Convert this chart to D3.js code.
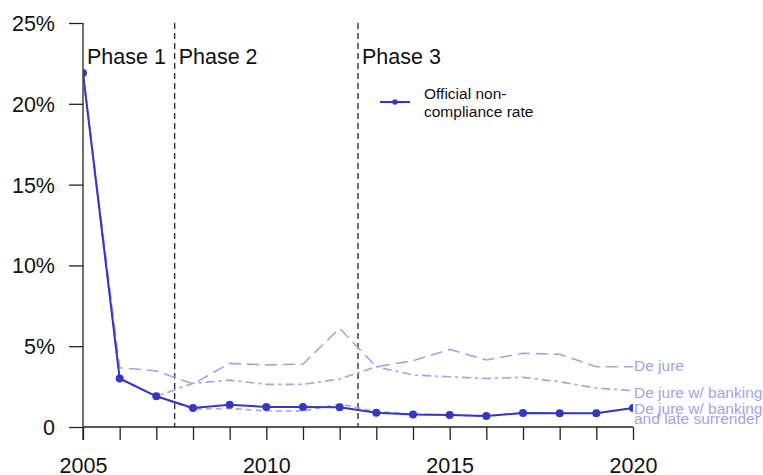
<!DOCTYPE html>
<html><head><meta charset="utf-8">
<script src="https://cdn.jsdelivr.net/npm/d3@7"></script>
<style>body{margin:0;background:#fff}svg{display:block;font-family:"Liberation Sans",Arial,sans-serif}</style>
</head><body><svg id="c" width="763" height="475"></svg>
<script>
const years = [2005,2006,2007,2008,2009,2010,2011,2012,2013,2014,2015,2016,2017,2018,2019,2020];
const official = [21.9,3.0,1.9,1.18,1.38,1.24,1.24,1.22,0.88,0.78,0.74,0.68,0.87,0.85,0.85,1.18];
const deJure = [21.9,3.67,3.47,2.66,3.94,3.84,3.9,6.1,3.73,4.1,4.8,4.15,4.56,4.5,3.73,3.73];
const deJureBanking = [21.9,3.0,1.9,2.7,2.9,2.64,2.64,2.97,3.73,3.22,3.11,3.0,3.07,2.8,2.4,2.25];
const deJureBankingLate = [21.9,3.0,1.9,1.1,1.15,0.99,0.99,1.42,0.95,0.8,0.74,0.68,0.87,0.85,0.85,1.18];
const yTicks = [0,5,10,15,20,25];
const yTickLabels = ["0","5%","10%","15%","20%","25%"];
const xLabelYears = [2005,2010,2015,2020];
const phaseBreaks = [2007.5,2012.5];
const phaseLabels = [{t:"Phase 1",x:2005},{t:"Phase 2",x:2007.5},{t:"Phase 3",x:2012.5}];
const seriesLabels = [["De jure"],["De jure w/ banking"],["De jure w/ banking","and late surrender"]];

const svg = d3.select("#c");
const x = d3.scaleLinear().domain([2005,2020]).range([83,633]);
const y = d3.scaleLinear().domain([0,25]).range([427,23]);
const dark = "#3636bf", light = "#a3a3e2";

svg.append("defs").append("clipPath").attr("id","clip").append("rect")
  .attr("x",83).attr("y",0).attr("width",550).attr("height",440);

// y axis
const ya = svg.append("g").attr("transform","translate(83,0)")
  .call(d3.axisLeft(y).tickValues(yTicks).tickSize(14).tickFormat((d,i)=>yTickLabels[i]).tickPadding(14));
ya.select(".domain").remove();
ya.selectAll("line").attr("stroke","#222").attr("stroke-width",1.3);
ya.selectAll("text").attr("font-size","21.5px").attr("fill","#111").attr("font-family","Liberation Sans, Arial, sans-serif").attr("dy","0.35em");
svg.append("line").attr("x1",83).attr("x2",83).attr("y1",23).attr("y2",440).attr("stroke","#222").attr("stroke-width",1.3);

// x axis
const xa = svg.append("g").attr("transform","translate(0,427)")
  .call(d3.axisBottom(x).tickValues(years).tickSize(13).tickFormat(d=>xLabelYears.includes(d)?String(d):""));
xa.select(".domain").remove();
xa.selectAll("line").attr("stroke","#222").attr("stroke-width",1.3);
xa.selectAll("text").attr("font-size","21.5px").attr("fill","#111").attr("font-family","Liberation Sans, Arial, sans-serif").attr("y",45.5).attr("dy",0);
svg.append("line").attr("x1",83).attr("x2",633).attr("y1",427).attr("y2",427).attr("stroke","#222").attr("stroke-width",1.3);

// phase lines
svg.selectAll(".pb").data(phaseBreaks).enter().append("line")
  .attr("x1",d=>x(d)).attr("x2",d=>x(d)).attr("y1",23).attr("y2",427)
  .attr("stroke","#333").attr("stroke-width",1.4).attr("stroke-dasharray","6,4");
svg.selectAll(".pl").data(phaseLabels).enter().append("text")
  .attr("x",d=>x(d.x)+4).attr("y",64).attr("font-size","21.5px").attr("fill","#111").text(d=>d.t);

const line = d3.line().x((d,i)=>x(years[i])).y(d=>y(d));
const g = svg.append("g").attr("clip-path","url(#clip)");
const lightSeries = [
  {v:deJure, dash:"12,6"},
  {v:deJureBanking, dash:"9,4,3,4"},
  {v:deJureBankingLate, dash:"6,4"}
];
lightSeries.forEach(s=>{
  g.append("path").attr("d",line(s.v)).attr("fill","none").attr("stroke",light)
   .attr("stroke-width",1.6).attr("stroke-dasharray",s.dash);
});
g.append("path").attr("d",line(official)).attr("fill","none").attr("stroke",dark).attr("stroke-width",2);
g.selectAll(".dot").data(official).enter().append("circle")
  .attr("cx",(d,i)=>x(years[i])).attr("cy",d=>y(d)).attr("r",4).attr("fill",dark);

// right labels
const labelY = [366, 392.5, 408.5];
seriesLabels.forEach((lines,k)=>{
  const t = svg.append("text").attr("x",634).attr("y",labelY[k]).attr("font-size","15.5px").attr("fill",light);
  lines.forEach((s,j)=>{
    t.append("tspan").attr("x",634).attr("dy",j===0?"0.35em":"10px").text(s);
  });
});

// legend
svg.append("line").attr("x1",380).attr("x2",410).attr("y1",102).attr("y2",102).attr("stroke",dark).attr("stroke-width",2);
svg.append("circle").attr("cx",395).attr("cy",102).attr("r",2.8).attr("fill",dark);
const lt = svg.append("text").attr("font-size","15.5px").attr("fill","#111");
lt.append("tspan").attr("x",424).attr("y",98.5).text("Official non-");
lt.append("tspan").attr("x",424).attr("y",117).text("compliance rate");
</script></body></html>
